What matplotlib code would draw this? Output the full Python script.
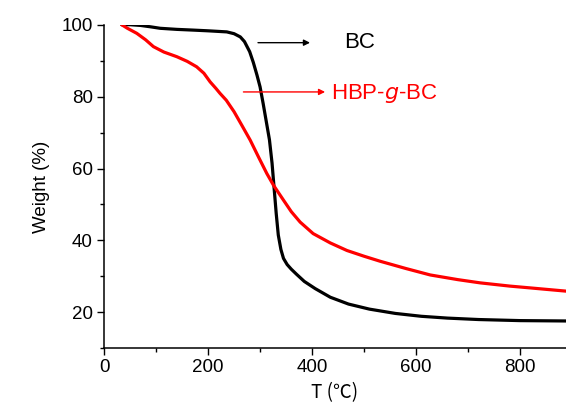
import matplotlib
matplotlib.use("Agg")
import matplotlib.pyplot as plt
from matplotlib.ticker import MultipleLocator

# Data
bc_T = [34, 50, 70, 90, 108, 140, 171, 200, 236, 250, 262, 270, 280, 287, 294, 300, 306,
        312, 318, 323, 327, 331, 335, 340, 345, 352, 360, 370, 385, 406, 435, 470, 510,
        560, 610, 660, 720, 800, 888]
bc_W = [100, 100, 99.8, 99.4, 99.0, 98.7, 98.5, 98.3, 98.0, 97.5, 96.6, 95.3, 92.5, 89.5,
        86.0, 82.7, 78.0, 73.0, 68.0, 61.5, 54.5, 47.5, 41.5, 37.5, 35.0, 33.3, 32.0,
        30.6, 28.6, 26.6, 24.2, 22.3, 20.9, 19.7, 18.9, 18.4, 18.0, 17.7, 17.6]

hbp_T = [34, 45, 63, 80, 95, 115, 140, 160, 178, 192, 204, 215, 223, 235, 250, 265, 281,
         297, 313, 326, 345, 360, 377, 402, 435, 467, 500, 531, 580, 627, 680, 723, 780,
         819, 888]
hbp_W = [100, 99, 97.6, 95.8, 93.9, 92.4, 91.1, 89.8, 88.3, 86.5, 84.1, 82.3, 80.9, 79.0,
         75.8, 72.0, 67.9, 63.2, 58.6, 55.3, 51.2, 48.0, 45.1, 41.9, 39.3, 37.2, 35.6,
         34.2, 32.2, 30.4, 29.1, 28.2, 27.3, 26.8, 25.9]

x_ticks = [0, 200, 400, 600, 800]
y_ticks = [20, 40, 60, 80, 100]

plt.rcParams['font.family'] = ['Liberation Sans', 'DejaVu Sans', 'Noto Sans CJK SC']

fig = plt.figure(figsize=(5.66, 4.09), dpi=100)
ax = fig.add_axes([104/566, 1-348.3/409, 1-104/566, (348.3-24.7)/409])

ax.plot(bc_T, bc_W, color='black', lw=2.3, solid_capstyle='round', solid_joinstyle='round')
ax.plot(hbp_T, hbp_W, color='#ff0000', lw=2.3, solid_capstyle='round', solid_joinstyle='round')

ax.set_xlim(0, 888)
ax.set_ylim(10, 100)
ax.set_xticks(x_ticks)
ax.set_yticks(y_ticks)
ax.xaxis.set_minor_locator(MultipleLocator(100))
ax.yaxis.set_minor_locator(MultipleLocator(10))
ax.tick_params(which='major', direction='out', length=5, width=1, labelsize=13.5, pad=3)
ax.tick_params(which='minor', direction='out', length=3, width=1)
for s in ['top', 'right']:
    ax.spines[s].set_visible(False)
for s in ['left', 'bottom']:
    ax.spines[s].set_linewidth(1.1)

ax.set_xlabel('T (℃)', fontsize=13.5, labelpad=4,
              family=['Noto Sans CJK SC', 'DejaVu Sans'])
ax.set_ylabel('Weight (%)', fontsize=13.5, labelpad=8)

ax.annotate('', xy=(396, 95), xytext=(296, 95),
            arrowprops=dict(arrowstyle='-|>', color='black', lw=1.0, mutation_scale=9,
                            shrinkA=0, shrinkB=0))
ax.text(462, 95, 'BC', fontsize=16, color='black', va='center', ha='left')

ax.annotate('', xy=(425, 81.3), xytext=(268, 81.3),
            arrowprops=dict(arrowstyle='-|>', color='#ff0000', lw=1.0, mutation_scale=9,
                            shrinkA=0, shrinkB=0))
ax.text(436, 80.8, 'HBP-$\\mathit{g}$-BC', fontsize=16, color='#ff0000', va='center', ha='left')

fig.savefig('out.png', dpi=100)
